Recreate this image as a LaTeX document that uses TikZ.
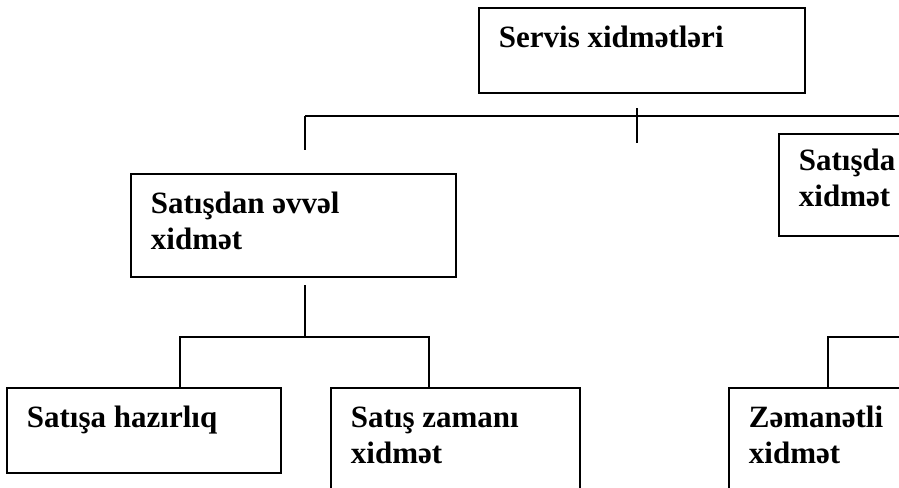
\documentclass[tikz,border=0pt]{standalone}
\usepackage{fontspec}
\setmainfont{Liberation Serif}
\tikzstyle{service} = [rectangle, draw=black, line width=1.8pt, inner xsep=20pt, inner ysep=0pt, anchor=north west, font=\bfseries\fontsize{31}{36}\selectfont]
\tikzstyle{link} = [line width=1.3pt]
\newcommand{\cell}[4][40pt]{\parbox[t][#3][t]{#2}{\raggedright\rule{0pt}{#1}#4}}

\begin{document}
\begin{tikzpicture}[x=1pt, y=-1pt]
        \useasboundingbox (0,0) rectangle (899,487);
        \clip (0,0) rectangle (899,487);

        \node (servis) [service] at (478,7) {\cell{286pt}{85pt}{Servis xidmətləri}};
        \node (before) [service] at (130,173) {\cell{285pt}{103pt}{Satışdan əvvəl\\xidmət}};
        \node (after) [service] at (778,133) {\cell[37pt]{285pt}{102pt}{Satışda\\xidmət}};
        \node (prep) [service] at (6,387) {\cell{234pt}{85pt}{Satışa hazırlıq}};
        \node (during) [service] at (330,387) {\cell{209pt}{103pt}{Satış zamanı\\xidmət}};
        \node (warranty) [service] at (728,387) {\cell{250pt}{103pt}{Zəmanətli\\xidmət}};

        \coordinate (busW) at (305,116);
        \coordinate (busE) at (910,116);
        \coordinate (tickT) at (637,108);
        \coordinate (tickB) at (637,143);
        \coordinate (dropL) at (305,150);
        \coordinate (stemT) at (305,285);
        \coordinate (stemB) at (305,337);
        \coordinate (forkL) at (180,337);
        \coordinate (forkR) at (429,337);
        \coordinate (forkW) at (828,337);
        \coordinate (forkE) at (910,337);

        \draw [link] (busW) -- (busE);
        \draw [link] (tickT) -- (tickB);
        \draw [link] (busW) -- (dropL);
        \draw [link] (stemT) -- (stemB);
        \draw [link] (prep.north -| forkL) -- (forkL) -- (forkR) -- (during.north -| forkR);
        \draw [link] (warranty.north -| forkW) -- (forkW) -- (forkE);
    \end{tikzpicture}
\end{document}
